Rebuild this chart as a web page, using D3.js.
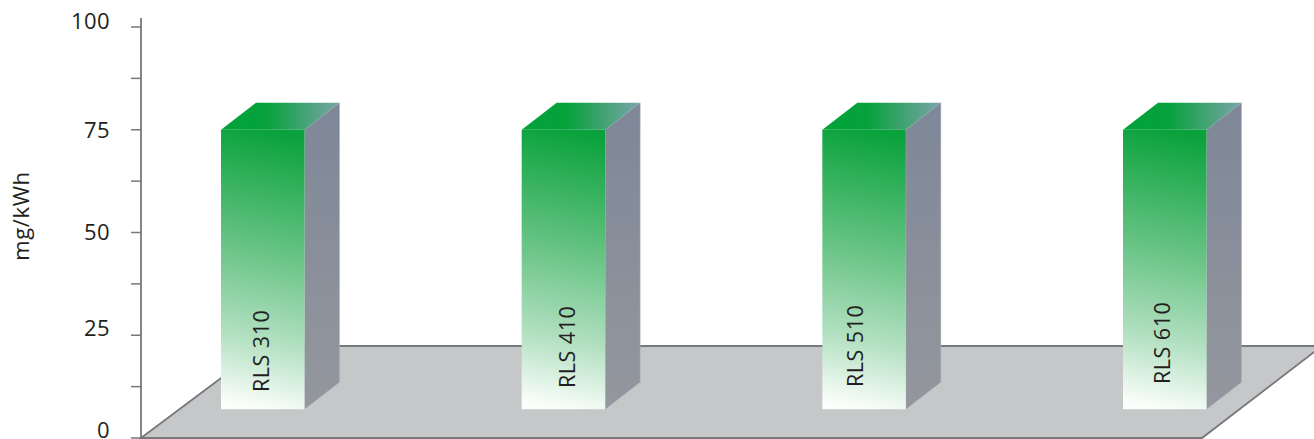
<!DOCTYPE html>
<html><head><meta charset="utf-8">
<script src="https://cdn.jsdelivr.net/npm/d3@7"></script>
<style>html,body{margin:0;padding:0;background:#fff;overflow:hidden}svg{display:block}text{font-family:"Open Sans",sans-serif;fill:#231f20}</style>
</head><body><div id="c"></div>
<script>
const categories = ["RLS 310","RLS 410","RLS 510","RLS 610"];
const values = [75,75,75,75];
const baseValue = 7;
const tickValues = [0,25,50,75,100];
const minorTicks = [12.5,37.5,62.5,87.5];
const axisTitle = "mg/kWh";

const W=1314,H=439;
const y=d3.scaleLinear().domain([0,100]).range([438,27]);
const x=d3.scalePoint().domain(categories).range([221,1123]);
const barW=83.5, dx=35, dy=27;
const labelDx={"RLS 310":40,"RLS 410":46,"RLS 510":33,"RLS 610":39};
const labelBottom={"RLS 310":392,"RLS 410":388,"RLS 510":387,"RLS 610":384};
const tickLabelDy={0:-8,25:-7,50:0,75:0,100:-6};

const svg=d3.select("#c").append("svg").attr("width",W).attr("height",H);
const defs=svg.append("defs");
function grad(id,x1,y1,x2,y2,stops){
  const g=defs.append("linearGradient").attr("id",id).attr("x1",x1).attr("y1",y1).attr("x2",x2).attr("y2",y2);
  stops.forEach(s=>g.append("stop").attr("offset",s[0]).attr("stop-color",s[1]));
}
grad("front",0.5,0,0.44,1,[[0,"#0aa23c"],[0.45,"#6cc588"],[0.75,"#b2e0c1"],[1,"#fbfefb"]]);
grad("top",0,0,1,0,[[0,"#00a33a"],[0.38,"#06a13b"],[1,"#7ba5aa"]]);
grad("side",0,0,0,1,[[0,"#7e8798"],[1,"#94979d"]]);

// floor
svg.append("path")
  .attr("d",`M141,438 L264,346 L1322,346 L1202,438 Z`)
  .attr("fill","#c6c7c9")
  .attr("stroke","#77787b").attr("stroke-width",1.8);

// axis
const axis=svg.append("g");
axis.append("line").attr("x1",141).attr("x2",141).attr("y1",18).attr("y2",439).attr("stroke","#77787b").attr("stroke-width",1.8);
axis.selectAll("line.t").data(tickValues.concat(minorTicks)).join("line").attr("class","t")
  .attr("x1",131).attr("x2",141).attr("y1",d=>y(d)).attr("y2",d=>y(d)).attr("stroke","#77787b").attr("stroke-width",1.5);
axis.selectAll("text").data(tickValues).join("text")
  .attr("x",110).attr("y",d=>y(d)+tickLabelDy[d]).attr("dy","0.36em").attr("text-anchor","end")
  .attr("font-size",22).attr("letter-spacing",0.4).text(d=>d);
svg.append("text").attr("transform","translate(22,216) rotate(-90)").attr("text-anchor","middle")
  .attr("dy","0.3em").attr("font-size",22).attr("letter-spacing",0.6).text(axisTitle);

// bars
const data=categories.map((c,i)=>({c,v:values[i]}));
const b=svg.selectAll("g.bar").data(data).join("g").attr("class","bar");
b.append("path").attr("fill","url(#side)").attr("stroke","#aab0ba").attr("stroke-width",0.5)
  .attr("d",d=>{const a=x(d.c)+barW,t=y(d.v),u=y(baseValue);return `M${a},${t} L${a+dx},${t-dy} L${a+dx},${u-dy} L${a},${u} Z`;});
b.append("path").attr("fill","url(#top)")
  .attr("d",d=>{const a=x(d.c),t=y(d.v);return `M${a},${t} L${a+dx},${t-dy} L${a+barW+dx},${t-dy} L${a+barW},${t} Z`;});
b.append("rect").attr("x",d=>x(d.c)).attr("width",barW).attr("y",d=>y(d.v)).attr("height",d=>y(baseValue)-y(d.v)).attr("fill","url(#front)");
b.append("text").attr("font-size",21.5).attr("letter-spacing",0.5)
  .attr("transform",d=>`translate(${x(d.c)+labelDx[d.c]},${labelBottom[d.c]}) rotate(-90)`)
  .attr("dy","0.36em").text(d=>d.c);
</script></body></html>
